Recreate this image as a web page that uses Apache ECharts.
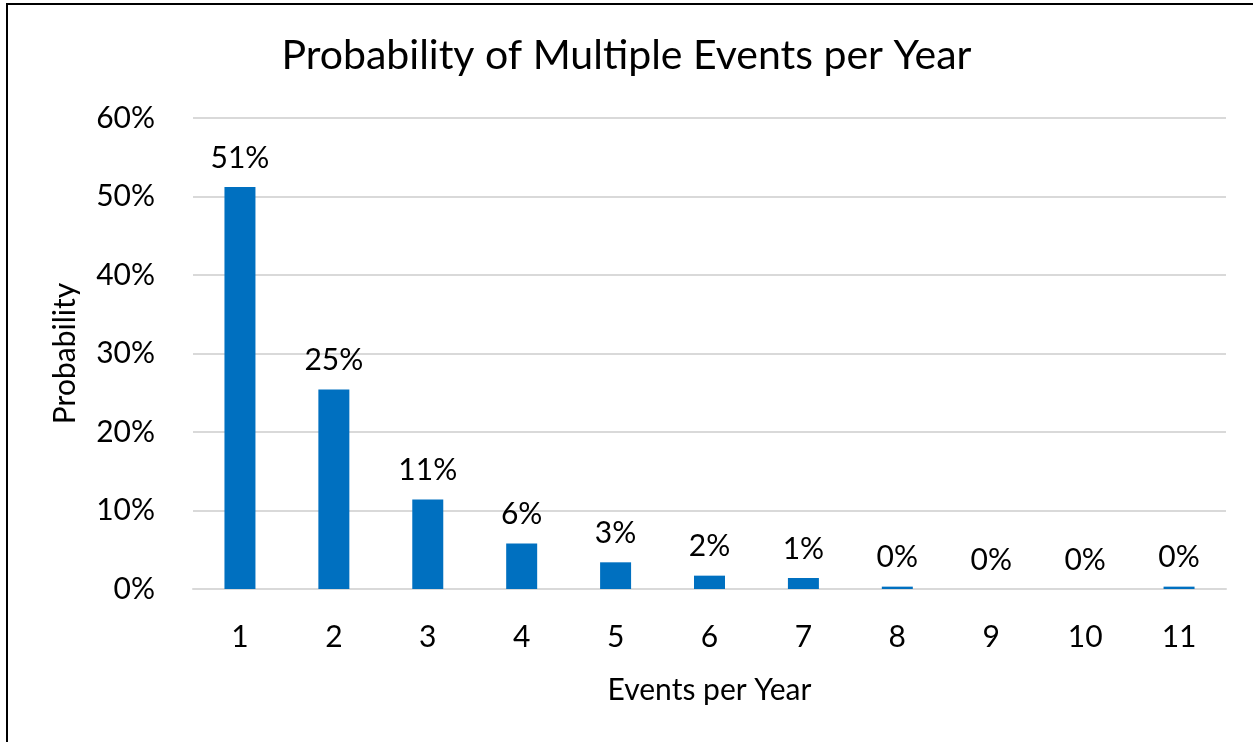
<!DOCTYPE html>
<html><head><meta charset="utf-8">
<script src="https://cdn.jsdelivr.net/npm/echarts@6/dist/echarts.min.js"></script>
<style>
html,body{margin:0;padding:0;background:#fff;}
#frame{position:absolute;left:6px;top:3px;width:1300px;height:800px;border-left:2px solid #000;border-top:2px solid #000;}
#c{position:absolute;left:0;top:0;width:1253px;height:742px;}
</style></head>
<body><div id="frame"></div><div id="c"></div>
<script>
const categories = ['1','2','3','4','5','6','7','8','9','10','11'];
const probabilities = [0.512, 0.254, 0.114, 0.058, 0.034, 0.017, 0.014, 0.003, 0.0, 0.0, 0.003];
const yTicks = [0, 0.1, 0.2, 0.3, 0.4, 0.5, 0.6];
const titleText = 'Probability of Multiple Events per Year';
const xName = 'Events per Year';
const yName = 'Probability';

const font = 'Lato, "Open Sans", sans-serif';
const chart = echarts.init(document.getElementById('c'));
chart.setOption({
  animation: false,
  title: { text: titleText, left: 'center', top: 30,
    textStyle: { fontFamily: font, fontSize: 41, fontWeight: 'normal', color: '#000' } },
  grid: { left: 193, right: 27, top: 118, bottom: 153 },
  xAxis: { type: 'category', data: categories,
    name: xName, nameLocation: 'middle', nameGap: 86,
    nameTextStyle: { fontFamily: font, fontSize: 30, color: '#000' },
    axisTick: { show: false }, axisLine: { show: true, lineStyle: { color: '#d9d9d9', width: 2 } },
    axisLabel: { fontFamily: font, fontSize: 30, color: '#000', margin: 33 } },
  yAxis: { type: 'value', min: yTicks[0], max: yTicks[yTicks.length-1], interval: 0.1,
    name: yName, nameLocation: 'middle', nameGap: 113,
    nameTextStyle: { fontFamily: font, fontSize: 30, color: '#000' },
    axisLine: { show: false }, axisTick: { show: false },
    splitLine: { lineStyle: { color: '#d9d9d9', width: 2 } },
    axisLabel: { fontFamily: font, fontSize: 30, color: '#000', margin: 38,
      formatter: v => Math.round(v*100) + '%' } },
  series: [{ type: 'bar', data: probabilities, barWidth: '33%',
    itemStyle: { color: '#0070C0' },
    label: { show: true, position: 'top', distance: 14, fontFamily: font, fontSize: 30, color: '#000',
      formatter: p => Math.round(p.value*100) + '%' } }]
});
</script></body></html>
